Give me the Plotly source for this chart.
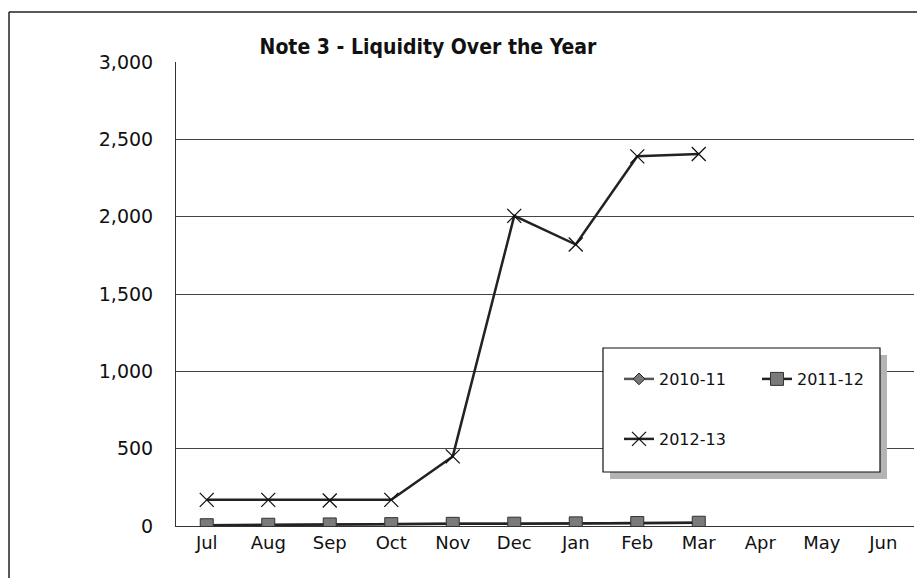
import plotly.graph_objects as go

months = ["Jul", "Aug", "Sep", "Oct", "Nov", "Dec", "Jan", "Feb", "Mar", "Apr", "May", "Jun"]
fy_2010_11 = [5, 8, 10, 12, 14, 15, 17, 19, 21]
fy_2011_12 = [5, 8, 10, 12, 14, 15, 17, 19, 21]
fy_2012_13 = [169, 169, 165, 169, 450, 2005, 1820, 2390, 2405]
y_ticks = [0, 500, 1000, 1500, 2000, 2500, 3000]

W, H = 917, 578
ML, MR, MT, MB = 176, 3, 62, 52
PW, PH = W - ML - MR, H - MT - MB

FONT = "DejaVu Sans, Verdana, sans-serif"

fig = go.Figure()

fig.add_trace(go.Scatter(
    x=months[:len(fy_2010_11)], y=fy_2010_11, name="2010-11", mode="lines+markers",
    line=dict(color="#555555", width=2.5),
    marker=dict(symbol="diamond", size=9, color="#777777", line=dict(color="#222222", width=1)),
    legend="legend",
))
fig.add_trace(go.Scatter(
    x=months[:len(fy_2011_12)], y=fy_2011_12, name="2011-12", mode="lines+markers",
    line=dict(color="#222222", width=2.5),
    marker=dict(symbol="square", size=13, color="#7a7a7a", line=dict(color="#333333", width=1)),
    legend="legend2",
))
fig.add_trace(go.Scatter(
    x=months[:len(fy_2012_13)], y=fy_2012_13, name="2012-13", mode="lines+markers",
    line=dict(color="#222222", width=2.5),
    marker=dict(symbol="x-thin-open", size=14, color="#111111", line=dict(color="#111111", width=1.3)),
    legend="legend3",
))

def px_x(p):
    return (p - ML) / PW

def px_y(p):
    return (H - MB - p) / PH

shapes = [
    # outer frame: left and top edges
    dict(type="line", xref="paper", yref="paper",
         x0=px_x(9), x1=px_x(9), y0=px_y(H + 5), y1=px_y(12),
         line=dict(color="#222222", width=1.5), layer="below"),
    dict(type="line", xref="paper", yref="paper",
         x0=px_x(9), x1=px_x(W + 5), y0=px_y(12), y1=px_y(12),
         line=dict(color="#222222", width=1.5), layer="below"),
    # legend box shadow
    dict(type="rect", xref="paper", yref="paper",
         x0=px_x(610), x1=px_x(887), y0=px_y(479), y1=px_y(355),
         line=dict(width=0), fillcolor="#b4b4b4", layer="above"),
    # legend box
    dict(type="rect", xref="paper", yref="paper",
         x0=px_x(603), x1=px_x(880), y0=px_y(472), y1=px_y(348),
         line=dict(color="#111111", width=1.2), fillcolor="white", layer="above"),
]

legend_common = dict(bgcolor="rgba(0,0,0,0)", borderwidth=0,
                     font=dict(family=FONT, size=16, color="#111111"),
                     xanchor="left", yanchor="middle", itemwidth=30)

fig.update_layout(
    width=W, height=H,
    margin=dict(l=ML, r=MR, t=MT, b=MB),
    paper_bgcolor="white", plot_bgcolor="white",
    title=dict(text="<b>Note 3 - Liquidity Over the Year</b>", xref="paper", x=px_x(428), xanchor="center",
               y=1 - 47 / H, yanchor="middle",
               font=dict(family="DejaVu Sans Condensed, DejaVu Sans, sans-serif", size=21, color="#111111")),
    xaxis=dict(
        type="category", categoryorder="array", categoryarray=months,
        range=[-0.5, 11.5], showgrid=False, showline=True, linecolor="#333333", linewidth=1,
        ticks="", tickfont=dict(family=FONT, size=18, color="#111111"), fixedrange=True,
    ),
    yaxis=dict(
        range=[0, 3000], tickvals=y_ticks, tickformat=",d",
        showgrid=True, gridcolor="#444444", gridwidth=1,
        showline=True, linecolor="#333333", linewidth=1, zeroline=False,
        ticks="", ticklabelstandoff=18,
        tickfont=dict(family=FONT, size=19, color="#111111"),
    ),
    shapes=shapes,
    legend=dict(x=px_x(619), y=px_y(379), **legend_common),
    legend2=dict(x=px_x(757), y=px_y(379), **legend_common),
    legend3=dict(x=px_x(619), y=px_y(439), **legend_common),
    showlegend=True,
)

fig.write_html("out.html")
